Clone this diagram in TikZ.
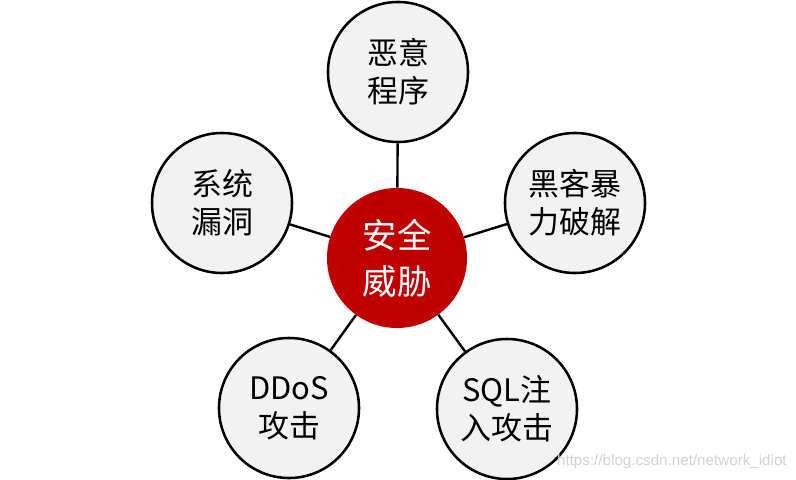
\documentclass[tikz,border=0pt]{standalone}
\usepackage{fontspec}
\usepackage{xcolor}
\usepackage{tikz}
\usetikzlibrary{positioning}
\newfontfamily\cjk{Noto Sans CJK SC}
\newfontfamily\markfont{Liberation Sans}
\definecolor{threatred}{HTML}{C00000}
\definecolor{bubblegray}{HTML}{F2F2F2}

\begin{document}
\begin{tikzpicture}[x=0.025cm,y=-0.025cm,
            bubble/.style={circle,draw,line width=1.8pt,fill=bubblegray,minimum size=3.5cm,inner sep=0pt,align=center,font=\cjk\fontsize{22}{27}\selectfont},
            core/.style={circle,fill=threatred,text=white,minimum size=3.5cm,inner sep=0pt,align=center,font=\cjk\fontsize{24.5}{32.5}\selectfont},
            link/.style={line width=1.7pt}]
            \useasboundingbox (0,0) rectangle (796,480);
            \node[core] (threat) at (397,258) {安全\\威胁};
            \node[bubble] (malware) at (398,72) {恶意\\程序};
            \node[bubble] (brute) at (575,203) {黑客暴\\力破解};
            \node[bubble] (sqli) at (507,409) {SQL注\\入攻击};
            \node[bubble] (ddos) at (289,408) {DDoS\\攻击};
            \node[bubble] (vuln) at (222,203) {系统\\漏洞};
            \draw[link] (threat)--(malware);
            \draw[link] (threat)--(brute);
            \draw[link] (threat)--(sqli);
            \draw[link] (threat)--(ddos);
            \draw[link] (threat)--(vuln);
            \node[anchor=east,text=gray!35,font=\markfont\fontsize{10.8}{12}\selectfont,inner sep=0pt] (mark) at (787,462) {https://blog.csdn.net/network\_idiot};
        \end{tikzpicture}
\end{document}
